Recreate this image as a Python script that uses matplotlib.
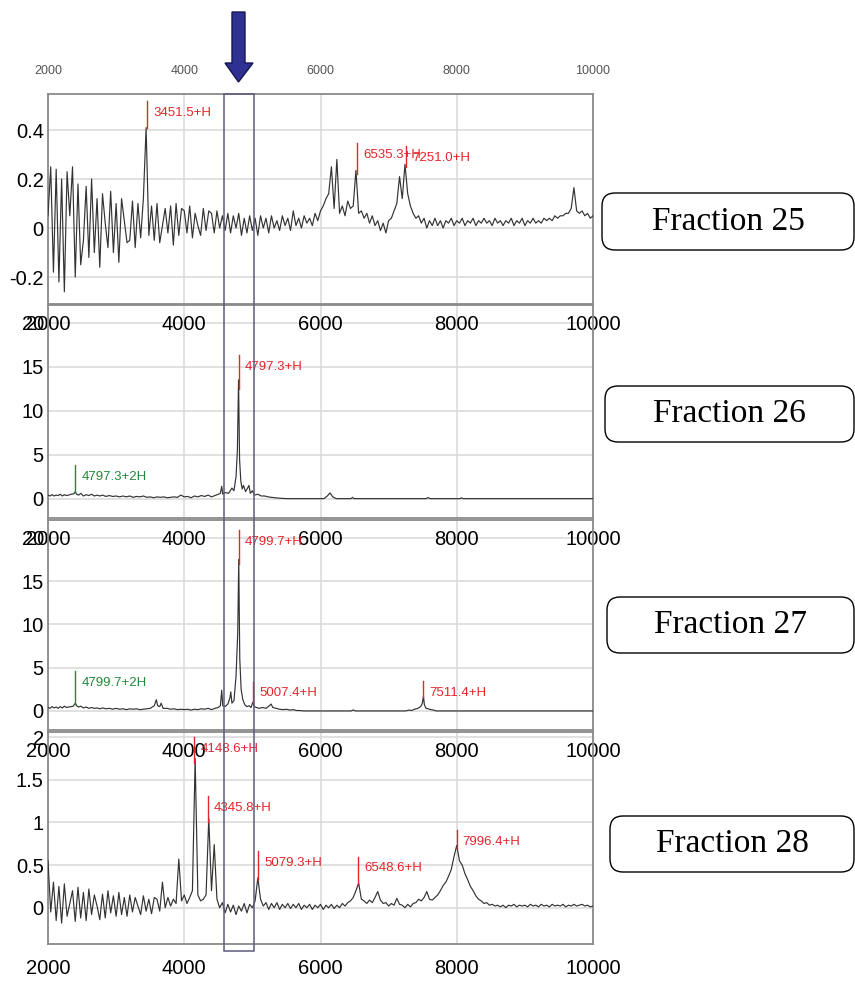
import numpy as np
import matplotlib
matplotlib.use("Agg")
import matplotlib.pyplot as plt
from matplotlib.patches import FancyBboxPatch, Polygon, Rectangle
from matplotlib.transforms import blended_transform_factory

plt.rcParams["font.family"] = ["Liberation Sans", "DejaVu Sans"]

# --- Data ---
# Fractions 25 and 28: noisy spectra sampled every 40 Da from 2000 to 10000
MZ_START, MZ_STEP = 2000, 40

frac25 = [
    0.05, 0.25, -0.18, 0.24, -0.22, 0.20, -0.26, 0.23, 0.05, 0.25,
    -0.20, 0.18, -0.15, -0.05, 0.17, -0.12, 0.20, -0.10, 0.12, -0.16,
    0.14, 0.02, -0.08, 0.15, -0.10, 0.10, -0.14, 0.12, 0.03, -0.06,
    -0.05, 0.11, -0.08, 0.10, -0.04, 0.12, 0.41, -0.03, 0.09, -0.05,
    0.10, -0.06, 0.01, 0.08, -0.02, 0.09, -0.07, 0.10, -0.03, 0.08,
    0.07, -0.02, 0.09, -0.04, 0.06, 0.01, -0.03, 0.08, -0.01, 0.07,
    0.06, -0.02, 0.07, 0.00, 0.05, -0.01, 0.06, -0.02, 0.05, 0.00,
    0.06, -0.03, 0.04, -0.02, 0.05, -0.01, 0.04, -0.03, 0.05, 0.00,
    0.04, -0.02, 0.05, 0.00, 0.03, -0.01, 0.05, 0.01, 0.04, -0.01,
    0.07, 0.01, 0.04, 0.00, 0.05, 0.02, 0.04, 0.01, 0.06, 0.03,
    0.07, 0.09, 0.12, 0.14, 0.25, 0.08, 0.28, 0.06, 0.09, 0.05,
    0.11, 0.08, 0.09, 0.235, 0.06, 0.07, 0.04, 0.06, 0.02, 0.05,
    0.01, 0.03, -0.01, 0.02, -0.02, 0.03, 0.04, 0.07, 0.10, 0.21,
    0.12, 0.26, 0.14, 0.09, 0.06, 0.04, 0.05, 0.02, 0.04, 0.00,
    0.03, 0.01, 0.04, 0.01, 0.03, 0.00, 0.03, 0.02, 0.04, 0.01,
    0.03, 0.02, 0.04, 0.01, 0.03, 0.02, 0.04, 0.01, 0.03, 0.02,
    0.04, 0.02, 0.03, 0.01, 0.04, 0.02, 0.03, 0.01, 0.03, 0.02,
    0.04, 0.01, 0.03, 0.02, 0.04, 0.01, 0.03, 0.02, 0.04, 0.02,
    0.03, 0.02, 0.04, 0.03, 0.04, 0.03, 0.05, 0.04, 0.05, 0.05,
    0.06, 0.06, 0.08, 0.165, 0.07, 0.06, 0.07, 0.05, 0.06, 0.04,
    0.05,
]

frac28 = [
    0.55, -0.05, 0.30, -0.15, 0.25, -0.18, 0.28, -0.10, 0.05, 0.20,
    -0.16, 0.24, -0.12, 0.18, -0.15, 0.22, -0.08, 0.15, 0.02, -0.14,
    0.16, -0.12, 0.20, -0.06, 0.14, -0.10, 0.18, -0.08, 0.12, -0.10,
    0.15, -0.05, 0.12, 0.02, -0.08, 0.14, -0.04, 0.10, -0.07, 0.12,
    0.10, -0.04, 0.30, 0.00, 0.12, 0.02, 0.10, 0.05, 0.57, 0.08,
    0.15, 0.05, 0.12, 0.20, 1.75, 0.15, 0.08, 0.10, 0.15, 1.05,
    0.20, 0.74, 0.10, 0.00, 0.06, -0.06, 0.04, -0.05, 0.03, -0.08,
    0.02, -0.04, 0.05, -0.06, 0.04, 0.00, 0.08, 0.35, 0.10, 0.02,
    0.06, -0.02, 0.05, 0.00, 0.06, -0.02, 0.04, 0.00, 0.05, -0.01,
    0.04, 0.00, 0.05, -0.02, 0.03, 0.00, 0.04, -0.02, 0.03, 0.00,
    0.04, -0.02, 0.03, 0.00, 0.04, -0.01, 0.03, 0.00, 0.05, 0.02,
    0.06, 0.08, 0.12, 0.20, 0.29, 0.10, 0.08, 0.05, 0.09, 0.06,
    0.12, 0.19, 0.09, 0.05, 0.06, 0.02, 0.05, 0.03, 0.11, 0.04,
    0.03, 0.00, 0.04, 0.01, 0.05, 0.06, 0.10, 0.08, 0.12, 0.19,
    0.10, 0.09, 0.12, 0.15, 0.20, 0.26, 0.30, 0.37, 0.45, 0.60,
    0.73, 0.55, 0.50, 0.40, 0.33, 0.25, 0.20, 0.14, 0.10, 0.08,
    0.05, 0.06, 0.03, 0.04, 0.02, 0.03, 0.01, 0.03, 0.00, 0.03,
    0.02, 0.04, 0.01, 0.03, 0.02, 0.03, 0.01, 0.04, 0.02, 0.03,
    0.01, 0.04, 0.02, 0.03, 0.01, 0.04, 0.02, 0.03, 0.02, 0.04,
    0.01, 0.03, 0.02, 0.04, 0.02, 0.03, 0.04, 0.02, 0.03, 0.01,
    0.02,
]

# Fractions 26 and 27: (m/z, intensity) pairs
frac26 = [
    (2000, 0.4), (2030, 0.3), (2060, 0.45), (2090, 0.3), (2120, 0.4), (2150, 0.35),
    (2180, 0.5), (2210, 0.3), (2240, 0.45), (2270, 0.35), (2300, 0.4), (2340, 0.5),
    (2380, 0.55), (2400, 0.8), (2420, 0.5), (2450, 0.4), (2480, 0.6), (2520, 0.3),
    (2560, 0.45), (2600, 0.35), (2640, 0.5), (2680, 0.3), (2720, 0.4), (2760, 0.3),
    (2800, 0.4), (2850, 0.25), (2900, 0.35), (2950, 0.25), (3000, 0.3), (3050, 0.2),
    (3100, 0.3), (3150, 0.2), (3200, 0.3), (3250, 0.15), (3300, 0.25), (3350, 0.2),
    (3400, 0.3), (3450, 0.15), (3500, 0.2), (3550, 0.1), (3600, 0.2), (3650, 0.15),
    (3700, 0.2), (3750, 0.1), (3800, 0.15), (3850, 0.2), (3900, 0.15), (3950, 0.4),
    (4000, 0.2), (4050, 0.25), (4100, 0.1), (4150, 0.3), (4200, 0.2), (4250, 0.35),
    (4300, 0.25), (4350, 0.4), (4400, 0.2), (4450, 0.35), (4500, 0.5), (4530, 0.6),
    (4550, 1.4), (4565, 0.5), (4600, 0.7), (4650, 0.6), (4700, 1.2), (4730, 0.9),
    (4760, 2.5), (4780, 5.5), (4797, 13.5), (4812, 4.5), (4830, 2.0), (4850, 1.1),
    (4870, 1.5), (4900, 0.8), (4930, 1.2), (4950, 1.5), (4970, 0.6), (5000, 0.9),
    (5030, 0.4), (5080, 0.5), (5130, 0.3), (5180, 0.3), (5230, 0.2), (5280, 0.15),
    (5330, 0.1), (5400, 0.05), (5500, 0.0), (6050, 0.0), (6100, 0.3), (6140, 0.65),
    (6180, 0.2), (6230, 0.0), (6450, 0.0), (6470, 0.15), (6490, 0.0), (7550, 0.0),
    (7580, 0.12), (7610, 0.0), (8050, 0.0), (8070, 0.1), (8090, 0.0), (10000, 0.0),
]

frac27 = [
    (2000, 0.4), (2030, 0.3), (2060, 0.5), (2090, 0.35), (2120, 0.45), (2150, 0.3),
    (2180, 0.5), (2210, 0.35), (2240, 0.55), (2270, 0.4), (2300, 0.45), (2340, 0.5),
    (2370, 0.55), (2401, 0.9), (2420, 0.6), (2450, 0.45), (2480, 0.55), (2520, 0.35),
    (2560, 0.45), (2600, 0.3), (2640, 0.4), (2680, 0.3), (2720, 0.35), (2760, 0.25),
    (2800, 0.35), (2850, 0.25), (2900, 0.3), (2950, 0.2), (3000, 0.3), (3050, 0.2),
    (3100, 0.25), (3150, 0.15), (3200, 0.25), (3250, 0.2), (3300, 0.25), (3350, 0.15),
    (3400, 0.2), (3450, 0.25), (3500, 0.3), (3560, 0.6), (3590, 1.3), (3610, 0.6),
    (3640, 0.5), (3660, 0.9), (3690, 0.3), (3750, 0.3), (3800, 0.2), (3850, 0.25),
    (3900, 0.15), (3950, 0.2), (4000, 0.15), (4050, 0.2), (4100, 0.1), (4150, 0.2),
    (4200, 0.15), (4250, 0.25), (4300, 0.2), (4350, 0.3), (4400, 0.15), (4450, 0.3),
    (4500, 0.4), (4530, 0.6), (4550, 2.4), (4565, 0.6), (4600, 0.5), (4640, 0.8),
    (4670, 1.5), (4683, 2.2), (4700, 0.9), (4730, 1.2), (4760, 4.0), (4785, 9.0),
    (4800, 17.5), (4815, 6.0), (4835, 2.5), (4860, 1.3), (4890, 0.7), (4920, 0.5),
    (4950, 0.6), (4980, 0.4), (5007, 1.0), (5030, 0.5), (5060, 0.4), (5100, 0.3),
    (5150, 0.4), (5200, 0.3), (5250, 0.6), (5275, 0.8), (5300, 0.4), (5350, 0.3),
    (5400, 0.2), (5450, 0.15), (5500, 0.2), (5550, 0.1), (5600, 0.15), (5650, 0.05),
    (5700, 0.05), (5750, 0.0), (6450, 0.0), (6480, 0.12), (6510, 0.0), (7250, 0.0),
    (7300, 0.1), (7340, 0.05), (7380, 0.2), (7430, 0.3), (7470, 0.5), (7495, 0.9),
    (7511, 1.7), (7525, 0.7), (7550, 0.3), (7580, 0.25), (7620, 0.15), (7660, 0.1),
    (7700, 0.0), (10000, 0.0),
]

# Peak labels: (m/z, label line bottom, label line top, text)
peaks25 = [(3451.5, 0.41, 0.52, "3451.5+H"), (6535.3, 0.22, 0.347, "6535.3+H"),
           (7251.0, 0.25, 0.336, "7251.0+H")]
peaks26 = [(4797.3, 12.5, 16.3, "4797.3+H"), (2399.6, 0.7, 3.86, "4797.3+2H")]
peaks27 = [(4799.7, 17.0, 20.9, "4799.7+H"), (2400.9, 0.8, 4.6, "4799.7+2H"),
           (5007.4, 0.9, 3.4, "5007.4+H"), (7511.4, 1.6, 3.5, "7511.4+H")]
peaks28 = [(4148.6, 1.7, 2.0, "4148.6+H"), (4345.8, 1.0, 1.31, "4345.8+H"),
           (5079.3, 0.33, 0.66, "5079.3+H"), (6548.6, 0.28, 0.6, "6548.6+H"),
           (7996.4, 0.7, 0.91, "7996.4+H")]

fractions = ["Fraction 25", "Fraction 26", "Fraction 27", "Fraction 28"]
x_ticks = [2000, 4000, 6000, 8000, 10000]
highlight = (4580, 5030)

# --- Styling ---
W, H = 855, 981
RED = "#e3262b"
GREEN = "#23883a"
LINE = "#333333"


def grid_spectrum(vals):
    mz = MZ_START + MZ_STEP * np.arange(len(vals))
    return mz, np.array(vals)


def pair_spectrum(pairs):
    mz, inten = zip(*pairs)
    return np.array(mz), np.array(inten)


spectra = [grid_spectrum(frac25), pair_spectrum(frac26),
           pair_spectrum(frac27), grid_spectrum(frac28)]
peaks = [peaks25, peaks26, peaks27, peaks28]

# axes pixel boxes (top, bottom), y-limits, ticks
boxes = [(94, 304), (305, 518), (520, 730), (732, 944)]
ylims = [(-0.31, 0.547), (-2.2, 22.0), (-2.2, 22.05), (-0.425, 2.06)]
yticks = [([-0.2, 0, 0.2, 0.4], ["-0.2", "0", "0.2", "0.4"]),
          ([0, 5, 10, 15, 20], ["0", "5", "10", "15", "20"]),
          ([0, 5, 10, 15, 20], ["0", "5", "10", "15", "20"]),
          ([0, 0.5, 1, 1.5, 2], ["0", "0.5", "1", "1.5", "2"])]
frac_boxes = [(602, 193, 250), (605, 386, 442), (607, 597, 653), (610, 816, 872)]

fig = plt.figure(figsize=(W / 100, H / 100), dpi=100)
axes = []
for i, (top, bot) in enumerate(boxes):
    ax = fig.add_axes([48 / W, 1 - bot / H, 545 / W, (bot - top) / H])
    axes.append(ax)
    mz, inten = spectra[i]
    ax.plot(mz, inten, color=LINE, lw=0.85, zorder=3)
    ax.set_xlim(2000, 10000)
    ax.set_ylim(*ylims[i])
    ax.set_xticks(x_ticks)
    ax.set_yticks(yticks[i][0])
    ax.set_yticklabels(yticks[i][1])
    ax.grid(color="#d8d8d8", lw=1.1)
    ax.set_axisbelow(True)
    ax.tick_params(length=0, labelsize=14.5, pad=3)
    ax.tick_params(axis="x", labelbottom=False)
    for sp in ax.spines.values():
        sp.set_color("#8a8a8a")
        sp.set_linewidth(1.3)

    sec = ax.secondary_xaxis("top")
    sec.set_zorder(2)
    sec.set_xticks(x_ticks)
    sec.spines["top"].set_visible(False)
    if i == 0:
        sec.tick_params(length=0, labelsize=9, labelcolor="#555555", pad=12)
    else:
        sec.tick_params(length=0, labelsize=14.5, pad=-21)

    for mz_p, lo, hi, text in peaks[i]:
        color = GREEN if "+2H" in text else RED
        ax.plot([mz_p, mz_p], [lo, hi], color=color, lw=1.0, zorder=4)
        ax.annotate(text, xy=(mz_p, hi), xytext=(4.5, -8.6),
                    textcoords="offset points", color=color, fontsize=9.5,
                    ha="left", va="center", zorder=5)

axes[3].tick_params(axis="x", labelbottom=True, pad=11)

# highlighted m/z window spanning all panels
trans = blended_transform_factory(axes[3].transData, fig.transFigure)
fig.add_artist(Rectangle((highlight[0], (H - 951) / H), highlight[1] - highlight[0],
                         (951 - 94) / H, transform=trans, fill=False,
                         edgecolor="#5b5b7e", lw=1.1, zorder=6))

# blue arrow above the window
arrow_px = [(232, 12), (245, 12), (245, 63), (253, 63), (238.5, 82), (225, 63), (232, 63)]
fig.add_artist(Polygon([(x / 100, (H - y) / 100) for x, y in arrow_px],
                       closed=True, transform=fig.dpi_scale_trans,
                       facecolor="#2e3192", edgecolor="#161650", lw=1.0))

# fraction labels
for name, (x0, y0, y1) in zip(fractions, frac_boxes):
    fig.add_artist(FancyBboxPatch((x0 / 100, (H - y1) / 100), (854 - x0) / 100,
                                  (y1 - y0) / 100,
                                  boxstyle="round,pad=0,rounding_size=0.13",
                                  transform=fig.dpi_scale_trans,
                                  facecolor="white", edgecolor="black", lw=1.0))
    fig.text((x0 + 854) / 2 / W, 1 - (y0 + y1) / 2 / H, name,
             family="Liberation Serif", fontsize=24, ha="center", va="center")

fig.savefig("out.png", dpi=100)
